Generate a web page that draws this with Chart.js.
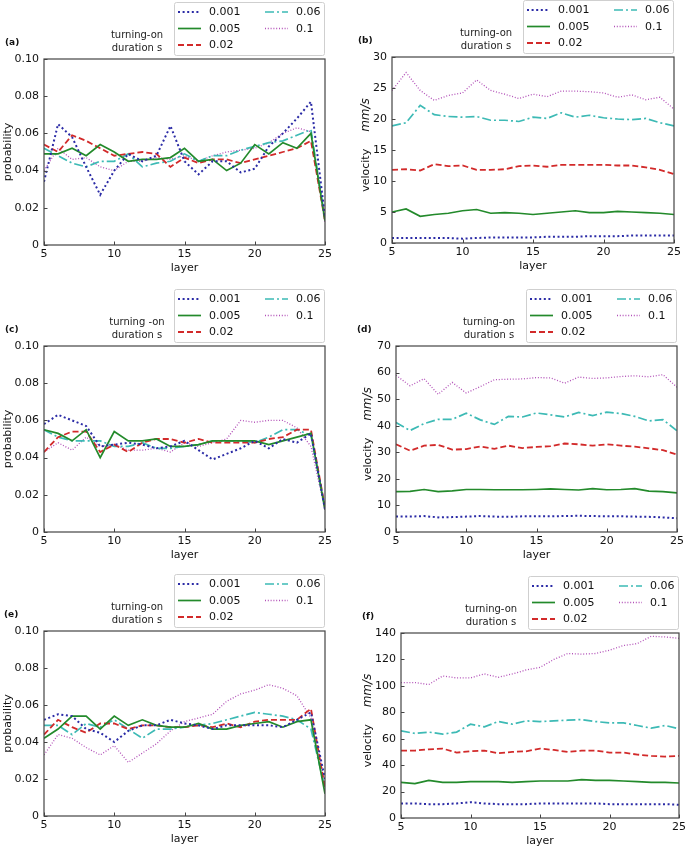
<!DOCTYPE html>
<html>
<head>
<meta charset="utf-8">
<script src="https://cdn.jsdelivr.net/npm/chart.js@4.4.1/dist/chart.umd.min.js"></script>
<style>
  html, body { margin: 0; padding: 0; background: #fff; width: 689px; height: 850px; overflow: hidden; }
  canvas { position: absolute; }
</style>
</head>
<body>
<canvas id="pa"></canvas>
<canvas id="pb"></canvas>
<canvas id="pc"></canvas>
<canvas id="pd"></canvas>
<canvas id="pe"></canvas>
<canvas id="pf"></canvas>
<script>
// layers on the x axis
const layers = [5, 6, 7, 8, 9, 10, 11, 12, 13, 14, 15, 16, 17, 18, 19, 20, 21, 22, 23, 24, 25];
const durations = ['0.001', '0.005', '0.02', '0.06', '0.1'];

const xTicks = [5, 10, 15, 20, 25];
const probTicks = [0, 0.02, 0.04, 0.06, 0.08, 0.1];
const velTicksB = [0, 5, 10, 15, 20, 25, 30];
const velTicksD = [0, 10, 20, 30, 40, 50, 60, 70];
const velTicksF = [0, 20, 40, 60, 80, 100, 120, 140];

// (a) probability
const a001 = [0.034, 0.065, 0.058, 0.042, 0.027, 0.040, 0.049, 0.045, 0.048, 0.064, 0.045, 0.038, 0.045, 0.045, 0.039, 0.041, 0.053, 0.060, 0.068, 0.077, 0.015];
const a005 = [0.049, 0.049, 0.052, 0.048, 0.054, 0.050, 0.045, 0.046, 0.046, 0.047, 0.052, 0.045, 0.046, 0.040, 0.044, 0.054, 0.049, 0.055, 0.052, 0.060, 0.013];
const a02  = [0.054, 0.050, 0.059, 0.056, 0.052, 0.048, 0.049, 0.050, 0.049, 0.042, 0.047, 0.044, 0.046, 0.046, 0.044, 0.046, 0.048, 0.050, 0.052, 0.056, 0.013];
const a06  = [0.052, 0.048, 0.044, 0.042, 0.045, 0.045, 0.049, 0.042, 0.044, 0.045, 0.049, 0.045, 0.048, 0.048, 0.051, 0.053, 0.055, 0.056, 0.059, 0.062, 0.014];
const a1   = [0.040, 0.052, 0.046, 0.047, 0.042, 0.040, 0.045, 0.045, 0.047, 0.046, 0.048, 0.045, 0.048, 0.050, 0.051, 0.052, 0.055, 0.060, 0.063, 0.061, 0.012];

// (b) velocity mm/s
const b001 = [0.8, 0.8, 0.8, 0.8, 0.8, 0.7, 0.8, 0.9, 0.9, 0.9, 0.9, 1.0, 1.0, 1.0, 1.1, 1.1, 1.1, 1.2, 1.2, 1.2, 1.2];
const b005 = [5.0, 5.5, 4.3, 4.6, 4.8, 5.2, 5.4, 4.8, 4.9, 4.8, 4.6, 4.8, 5.0, 5.2, 4.9, 4.9, 5.1, 5.0, 4.9, 4.8, 4.6];
const b02  = [11.8, 11.9, 11.7, 12.7, 12.4, 12.5, 11.8, 11.8, 11.9, 12.4, 12.5, 12.3, 12.6, 12.6, 12.6, 12.6, 12.5, 12.5, 12.2, 11.8, 11.1];
const b06  = [18.9, 19.4, 22.2, 20.7, 20.4, 20.3, 20.4, 19.8, 19.8, 19.6, 20.3, 20.1, 21.0, 20.3, 20.6, 20.2, 20.0, 19.9, 20.1, 19.4, 18.9];
const b1   = [24.6, 27.5, 24.6, 23.0, 23.8, 24.2, 26.3, 24.6, 24.0, 23.3, 24.0, 23.6, 24.5, 24.5, 24.4, 24.2, 23.5, 23.9, 23.1, 23.5, 21.6];

// (c) probability
const c001 = [0.058, 0.063, 0.060, 0.057, 0.046, 0.047, 0.048, 0.047, 0.045, 0.046, 0.049, 0.044, 0.039, 0.042, 0.045, 0.049, 0.045, 0.050, 0.048, 0.053, 0.012];
const c005 = [0.055, 0.053, 0.049, 0.055, 0.040, 0.054, 0.049, 0.049, 0.050, 0.046, 0.046, 0.047, 0.049, 0.049, 0.049, 0.049, 0.047, 0.049, 0.051, 0.053, 0.012];
const c02  = [0.043, 0.051, 0.054, 0.054, 0.043, 0.047, 0.043, 0.048, 0.050, 0.050, 0.048, 0.050, 0.048, 0.048, 0.048, 0.048, 0.050, 0.051, 0.055, 0.055, 0.013];
const c06  = [0.055, 0.051, 0.049, 0.049, 0.049, 0.046, 0.046, 0.048, 0.045, 0.045, 0.046, 0.047, 0.049, 0.049, 0.049, 0.048, 0.051, 0.055, 0.055, 0.052, 0.013];
const c1   = [0.043, 0.048, 0.044, 0.051, 0.046, 0.047, 0.044, 0.044, 0.045, 0.043, 0.048, 0.046, 0.048, 0.050, 0.060, 0.059, 0.060, 0.060, 0.056, 0.046, 0.012];

// (d) velocity mm/s
const d001 = [5.8, 5.8, 6.0, 5.5, 5.6, 5.8, 6.0, 5.8, 5.7, 5.9, 5.9, 5.9, 6.0, 6.1, 6.0, 5.9, 5.9, 5.8, 5.7, 5.5, 5.2];
const d005 = [15.2, 15.3, 16.0, 15.2, 15.5, 16.0, 16.0, 15.9, 15.9, 15.9, 16.0, 16.2, 16.0, 15.8, 16.3, 15.9, 16.0, 16.3, 15.4, 15.2, 14.7];
const d02  = [33.0, 30.6, 32.5, 32.8, 31.0, 31.2, 32.2, 31.3, 32.5, 31.6, 32.0, 32.3, 33.3, 33.0, 32.5, 33.0, 32.5, 32.1, 31.5, 30.8, 29.1];
const d06  = [41.2, 38.2, 40.8, 42.4, 42.4, 44.7, 42.2, 40.5, 43.5, 43.3, 44.8, 44.1, 43.3, 45.0, 43.8, 45.1, 44.6, 43.5, 41.8, 42.3, 38.1];
const d1   = [59.0, 55.0, 57.7, 51.8, 56.3, 52.3, 54.7, 57.3, 57.5, 57.6, 58.1, 58.0, 56.0, 58.3, 57.8, 58.0, 58.5, 58.8, 58.4, 59.2, 54.5];

// (e) probability
const e001 = [0.052, 0.055, 0.054, 0.047, 0.045, 0.040, 0.046, 0.049, 0.049, 0.052, 0.050, 0.049, 0.047, 0.049, 0.049, 0.049, 0.049, 0.048, 0.052, 0.056, 0.020];
const e005 = [0.042, 0.047, 0.054, 0.054, 0.047, 0.054, 0.049, 0.052, 0.049, 0.048, 0.048, 0.050, 0.047, 0.047, 0.049, 0.050, 0.051, 0.048, 0.051, 0.052, 0.012];
const e02  = [0.044, 0.052, 0.048, 0.045, 0.050, 0.050, 0.047, 0.049, 0.049, 0.048, 0.048, 0.049, 0.048, 0.050, 0.048, 0.051, 0.052, 0.052, 0.052, 0.058, 0.015];
const e06  = [0.049, 0.049, 0.044, 0.050, 0.048, 0.052, 0.047, 0.042, 0.047, 0.047, 0.048, 0.049, 0.050, 0.052, 0.054, 0.056, 0.055, 0.054, 0.052, 0.047, 0.015];
const e1   = [0.033, 0.044, 0.042, 0.037, 0.033, 0.038, 0.029, 0.034, 0.039, 0.046, 0.051, 0.053, 0.055, 0.062, 0.066, 0.068, 0.071, 0.069, 0.065, 0.053, 0.018];

// (f) velocity mm/s
const f001 = [11, 11, 10.5, 10.5, 11, 12, 11, 10.5, 10.5, 10.5, 11, 11, 11, 11, 11, 10.5, 10.5, 10.5, 10.5, 10.5, 10];
const f005 = [27, 26, 28.5, 27, 27, 27.5, 27.5, 27.5, 27, 27.5, 28, 28, 28, 29, 28.5, 28.5, 28, 27.5, 27, 27, 26.5];
const f02  = [51, 51, 52, 52.5, 49.5, 50.5, 51, 49, 50, 50.5, 52.5, 51.5, 50, 51, 51, 49.5, 49.5, 48, 47, 46.5, 47];
const f06  = [66, 64, 65, 63.5, 65, 71, 69, 73, 71, 73.5, 73, 73.5, 74, 74.5, 73, 72, 72, 70, 68, 70, 67.5];
const f1   = [102.5, 102.5, 101, 107.5, 106, 106, 109, 106.5, 109, 112, 114, 120, 124.5, 124, 124.5, 127, 130.5, 132, 137.5, 137, 136];

// line looks per duration
const styles = [
  { color: '#2b2ba6', width: 2.0, dash: [2, 2.6] },
  { color: '#238a2b', width: 1.7, dash: [] },
  { color: '#d22a2a', width: 1.8, dash: [6, 3] },
  { color: '#3dbab5', width: 1.7, dash: [9, 3, 2, 3] },
  { color: '#b250b8', width: 1.3, dash: [1, 1.8] }
];

// box = canvas position, area = plot area inside the canvas
const panels = [
  { id: 'pa', tag: '(a)', tagX: 5, note: 'turning-on', series: [a001, a005, a02, a06, a1], ticks: probTicks, yTitle: 'probability', yTitleDx: -36,
    box: [0, 0, 345, 280], area: [44, 59, 325, 245] },
  { id: 'pb', tag: '(b)', tagX: 13, note: 'turning-on', series: [b001, b005, b02, b06, b1], ticks: velTicksB, yTitle: 'velocity', yTitleDx: -26,
    box: [345, 0, 344, 280], area: [47, 57, 329, 243] },
  { id: 'pc', tag: '(c)', tagX: 5, note: 'turning -on', series: [c001, c005, c02, c06, c1], ticks: probTicks, yTitle: 'probability', yTitleDx: -36,
    box: [0, 280, 345, 280], area: [44, 66, 325, 252] },
  { id: 'pd', tag: '(d)', tagX: 12, note: 'turning-on', series: [d001, d005, d02, d06, d1], ticks: velTicksD, yTitle: 'velocity', yTitleDx: -28,
    box: [345, 280, 344, 280], area: [51, 66, 332, 252] },
  { id: 'pe', tag: '(e)', tagX: 4, note: 'turning-on', series: [e001, e005, e02, e06, e1], ticks: probTicks, yTitle: 'probability', yTitleDx: -36,
    box: [0, 560, 345, 290], area: [44, 71, 325, 256] },
  { id: 'pf', tag: '(f)', tagX: 17, note: 'turning-on', series: [f001, f005, f02, f06, f1], ticks: velTicksF, yTitle: 'velocity', yTitleDx: -33,
    box: [345, 560, 344, 290], area: [56, 73, 336, 258] }
];

Chart.defaults.font.family = "'DejaVu Sans', sans-serif";
Chart.defaults.font.size = 11;
Chart.defaults.color = '#111';

const FONT = "'DejaVu Sans', sans-serif";

const decor = {
  id: 'decor',
  afterDatasetsDraw(chart, args, opts) {
    const ctx = chart.ctx;
    const ca = chart.chartArea;
    const xs = chart.scales.x, ys = chart.scales.y;
    ctx.save();
    // frame
    ctx.strokeStyle = '#444';
    ctx.lineWidth = 1.2;
    ctx.setLineDash([]);
    ctx.strokeRect(ca.left, ca.top, ca.right - ca.left, ca.bottom - ca.top);
    // inward ticks
    ctx.beginPath();
    xs.ticks.forEach(t => {
      const px = Math.round(xs.getPixelForValue(t.value)) + 0.5;
      ctx.moveTo(px, ca.bottom);
      ctx.lineTo(px, ca.bottom - 3.5);
    });
    ys.ticks.forEach(t => {
      const py = Math.round(ys.getPixelForValue(t.value)) + 0.5;
      ctx.moveTo(ca.left, py);
      ctx.lineTo(ca.left + 3.5, py);
    });
    ctx.lineWidth = 1;
    ctx.stroke();
    ctx.restore();
  },
  afterDraw(chart, args, opts) {
    const ctx = chart.ctx;
    const ca = chart.chartArea;
    ctx.save();

    // legend box
    const lw = 151, lh = 54;
    const lr = ca.right, lb = ca.top - 3;
    const ll = lr - lw, lt = lb - lh;
    ctx.fillStyle = 'rgba(255,255,255,0.9)';
    ctx.strokeStyle = '#cfcfcf';
    ctx.lineWidth = 1;
    ctx.beginPath();
    ctx.roundRect(ll + 0.5, lt + 0.5, lw - 1, lh - 1, 2);
    ctx.fill();
    ctx.stroke();

    const slots = [[0, 0], [0, 1], [0, 2], [1, 0], [1, 1]];
    ctx.font = '11px ' + FONT;
    ctx.textBaseline = 'middle';
    ctx.textAlign = 'left';
    chart.data.datasets.forEach((ds, i) => {
      const [col, row] = slots[i];
      const x0 = ll + (col === 0 ? 4 : 91);
      const y = lt + 10 + row * 16.5;
      ctx.strokeStyle = ds.borderColor;
      ctx.lineWidth = ds.borderWidth;
      ctx.setLineDash(ds.borderDash);
      ctx.beginPath();
      ctx.moveTo(x0, y);
      ctx.lineTo(x0 + 23, y);
      ctx.stroke();
      ctx.setLineDash([]);
      ctx.fillStyle = '#111';
      ctx.fillText(ds.label, x0 + 31, y + 0.5);
    });

    // legend title to the left of the box
    ctx.font = '10px ' + FONT;
    ctx.textAlign = 'center';
    ctx.fillStyle = '#222';
    ctx.fillText(opts.note, ll - 37, ca.top - 24);
    ctx.fillText('duration s', ll - 37, ca.top - 11);

    // panel tag
    ctx.font = 'bold 9px ' + FONT;
    ctx.textAlign = 'left';
    ctx.fillStyle = '#111';
    ctx.fillText(opts.tag, opts.tagX, ca.top - 16);

    // x axis title
    ctx.font = '11px ' + FONT;
    ctx.textAlign = 'center';
    ctx.fillText('layer', (ca.left + ca.right) / 2, ca.bottom + 23);

    // y axis title (mm/s in italics)
    ctx.translate(ca.left + opts.yTitleDx, (ca.top + ca.bottom) / 2);
    ctx.rotate(-Math.PI / 2);
    if (opts.yTitle === 'velocity') {
      const a = 'velocity';
      const b = 'mm/s';
      const gap = 17;
      ctx.font = '11px ' + FONT;
      const wa = ctx.measureText(a).width;
      ctx.font = 'italic 12px ' + FONT;
      const wb = ctx.measureText(b).width;
      const start = -(wa + gap + wb) / 2 + 5;
      ctx.textAlign = 'left';
      ctx.font = '11px ' + FONT;
      ctx.fillText(a, start, 0);
      ctx.font = 'italic 12px ' + FONT;
      ctx.fillText(b, start + wa + gap, 0);
    } else {
      ctx.fillText(opts.yTitle, 0, 0);
    }
    ctx.restore();
  }
};

panels.forEach(p => {
  const cv = document.getElementById(p.id);
  const [bx, by, bw, bh] = p.box;
  const [al, at, ar, ab] = p.area;
  cv.width = bw;
  cv.height = bh;
  cv.style.left = bx + 'px';
  cv.style.top = by + 'px';
  cv.style.width = bw + 'px';
  cv.style.height = bh + 'px';

  const datasets = p.series.map((vals, i) => ({
    label: durations[i],
    data: layers.map((l, k) => ({ x: l, y: vals[k] })),
    borderColor: styles[i].color,
    borderWidth: styles[i].width,
    borderDash: styles[i].dash,
    pointRadius: 0,
    tension: 0,
    fill: false
  }));

  const yTicks = p.ticks;
  new Chart(cv, {
    type: 'line',
    data: { datasets: datasets },
    options: {
      responsive: false,
      animation: false,
      devicePixelRatio: 1,
      layout: { padding: { left: 0, top: at, right: bw - ar, bottom: 0 } },
      plugins: {
        legend: { display: false },
        tooltip: { enabled: false },
        decor: { tag: p.tag, tagX: p.tagX, note: p.note, yTitle: p.yTitle, yTitleDx: p.yTitleDx }
      },
      scales: {
        x: {
          type: 'linear',
          min: 5, max: 25,
          grid: { display: false, drawTicks: false },
          border: { display: false },
          afterBuildTicks: s => { s.ticks = xTicks.map(v => ({ value: v })); },
          afterFit: s => { s.height = bh - ab; },
          ticks: { padding: 3, maxRotation: 0, font: { size: 11 } }
        },
        y: {
          min: yTicks[0], max: yTicks[yTicks.length - 1],
          grid: { display: false, drawTicks: false },
          border: { display: false },
          afterBuildTicks: s => { s.ticks = yTicks.map(v => ({ value: v })); },
          afterFit: s => { s.width = al; },
          ticks: { padding: 5, font: { size: 11 } }
        }
      }
    },
    plugins: [decor]
  });
});
</script>
</body>
</html>
